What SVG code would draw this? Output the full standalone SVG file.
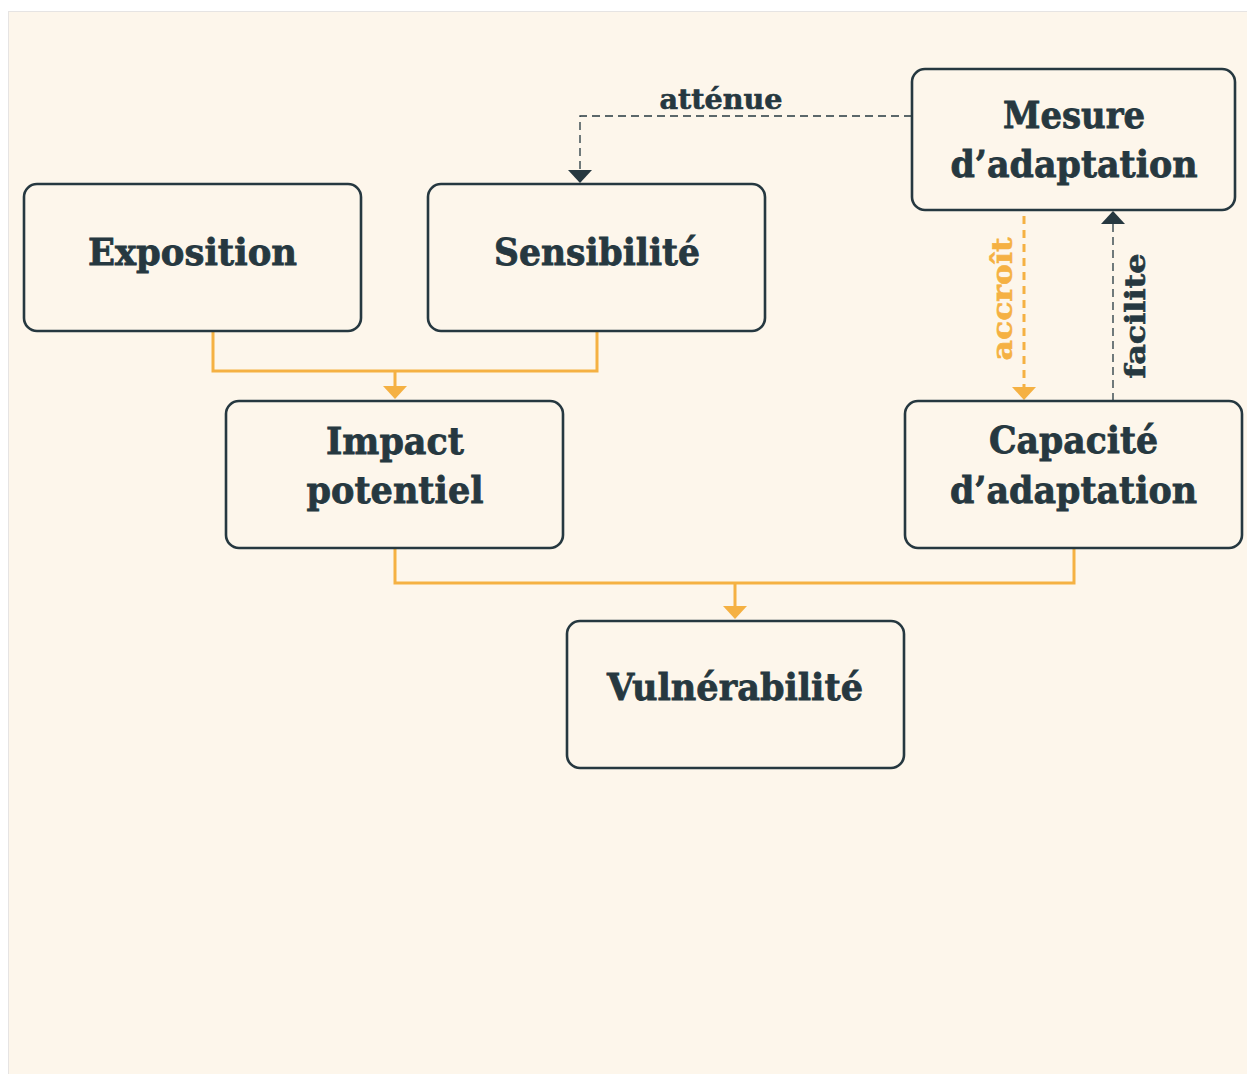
<svg xmlns="http://www.w3.org/2000/svg" width="1247" height="1074" viewBox="0 0 1247 1074">
<style>
.node{fill:#fdf6eb;stroke:#263840;stroke-width:2.6}
.t{font-family:"DejaVu Serif","Liberation Serif",serif;font-weight:bold;fill:#263840;stroke:#263840;stroke-width:0.8;text-anchor:middle;font-size:37px}
.lab{font-family:"DejaVu Serif","Liberation Serif",serif;font-weight:bold;font-size:27px;text-anchor:middle;stroke-width:0.6}
.or{fill:none;stroke:#f5b143;stroke-width:3}
.ord{fill:none;stroke:#f5b143;stroke-width:3;stroke-dasharray:8 6}
.dkd{fill:none;stroke:#263840;stroke-width:1.3;stroke-dasharray:8 5}
.ahO{fill:#f5b143}
.ahD{fill:#263840}
</style>
<rect x="0" y="0" width="1247" height="1074" fill="#ffffff"/>
<rect x="8.5" y="11.5" width="1250" height="1070" fill="#fdf6eb" stroke="#e6e4e3" stroke-width="1"/>
<g id="connectors">
<path class="or" d="M213,331 V371 H597 V331"/>
<path class="or" d="M395,371 V387"/>
<path class="ahO" d="M383,386 H407 L395,399 Z"/>
<path class="or" d="M395,548 V583 H1074 V548"/>
<path class="or" d="M735,583 V607"/>
<path class="ahO" d="M723,606 H747 L735,619 Z"/>
<path class="dkd" d="M912,116 H580 V171"/>
<path class="ahD" d="M568,170 H592 L580,183 Z"/>
<path class="ord" d="M1024,216 V388"/>
<path class="ahO" d="M1012,387 H1036 L1024,400 Z"/>
<path class="dkd" d="M1113,401 V223"/>
<path class="ahD" d="M1101,224 H1125 L1113,211 Z"/>
<text class="lab" x="721" y="109" fill="#263840" stroke="#263840" textLength="123" lengthAdjust="spacingAndGlyphs">atténue</text>
<text class="lab" transform="translate(1012,299) rotate(-90)" fill="#f5b143" stroke="#f5b143" textLength="123" lengthAdjust="spacingAndGlyphs">accroît</text>
<text class="lab" transform="translate(1145,316) rotate(-90)" fill="#263840" stroke="#263840" textLength="125" lengthAdjust="spacingAndGlyphs">facilite</text>
</g>
<g id="exposition">
<rect class="node" x="24" y="184" width="337" height="147" rx="13"/>
<text class="t" x="192.5" y="265" textLength="209" lengthAdjust="spacingAndGlyphs">Exposition</text>
</g>
<g id="sensibilite">
<rect class="node" x="428" y="184" width="337" height="147" rx="13"/>
<text class="t" x="597" y="265" textLength="206" lengthAdjust="spacingAndGlyphs">Sensibilité</text>
</g>
<g id="mesure">
<rect class="node" x="912" y="69" width="323" height="141" rx="13"/>
<text class="t" x="1074" y="128" textLength="142" lengthAdjust="spacingAndGlyphs">Mesure</text>
<text class="t" x="1074" y="177" textLength="247" lengthAdjust="spacingAndGlyphs">d’adaptation</text>
</g>
<g id="impact">
<rect class="node" x="226" y="401" width="337" height="147" rx="13"/>
<text class="t" x="395" y="454" textLength="138" lengthAdjust="spacingAndGlyphs">Impact</text>
<text class="t" x="395" y="503" textLength="177" lengthAdjust="spacingAndGlyphs">potentiel</text>
</g>
<g id="capacite">
<rect class="node" x="905" y="401" width="337" height="147" rx="13"/>
<text class="t" x="1073.5" y="453" textLength="169" lengthAdjust="spacingAndGlyphs">Capacité</text>
<text class="t" x="1073.5" y="503" textLength="247" lengthAdjust="spacingAndGlyphs">d’adaptation</text>
</g>
<g id="vulnerabilite">
<rect class="node" x="567" y="621" width="337" height="147" rx="13"/>
<text class="t" x="735" y="700" textLength="256" lengthAdjust="spacingAndGlyphs">Vulnérabilité</text>
</g>
</svg>
